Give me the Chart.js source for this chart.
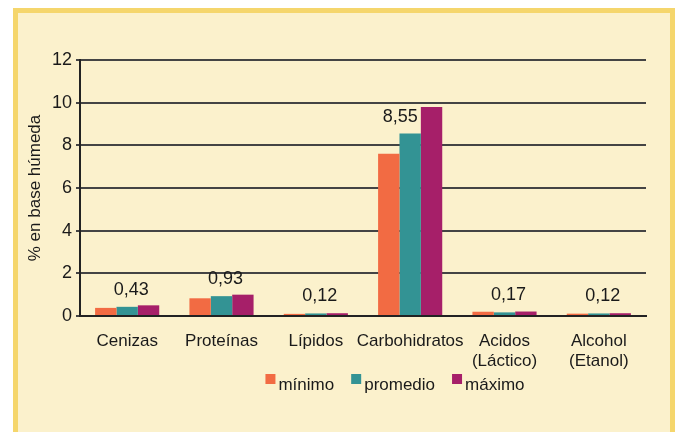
<!DOCTYPE html>
<html>
<head>
<meta charset="utf-8">
<script src="https://cdn.jsdelivr.net/npm/chart.js"></script>
<style>
  html, body { margin: 0; padding: 0; background: #ffffff; }
  body { width: 678px; height: 432px; position: relative; overflow: hidden; }
  #frame {
    position: absolute; left: 13px; top: 8px; width: 652px; height: 440px;
    background: #fbf1cc; border: 5px solid #f5d66c; border-bottom: none;
  }
  #wrap { position: absolute; left: 0; top: 0; width: 678px; height: 432px; }
</style>
</head>
<body>
<div id="frame"></div>
<div id="wrap"><canvas id="chart" width="678" height="432"></canvas></div>
<script>
// Composición (% en base húmeda)
const categories = ['Cenizas', 'Proteínas', 'Lípidos', 'Carbohidratos', ['Acidos', '(Láctico)'], ['Alcohol', '(Etanol)']];
const minimo   = [0.38, 0.83, 0.10, 7.60, 0.20, 0.11];
const promedio = [0.43, 0.93, 0.12, 8.55, 0.17, 0.12];
const maximo   = [0.50, 1.00, 0.13, 9.80, 0.21, 0.13];
const yTicks = [0, 2, 4, 6, 8, 10, 12];

const FONT = 'Liberation Sans, Arial, sans-serif';
const TEXT = '#1a1a1a';

// value labels (promedio) above each group
const valueLabels = {
    id: 'valueLabels',
    afterDatasetsDraw(chart) {
        const ctx = chart.ctx;
        const mid = chart.getDatasetMeta(1).data;
        const top = chart.getDatasetMeta(2).data;
        ctx.save();
        ctx.font = '18px ' + FONT;
        ctx.fillStyle = TEXT;
        ctx.textBaseline = 'middle';
        mid.forEach((bar, i) => {
            const txt = promedio[i].toFixed(2).replace('.', ',');
            const w = ctx.measureText(txt).width;
            const y = bar.y - 17;
            let x = bar.x + 4;
            const maxBar = top[i];
            // keep the label clear of a taller maximo bar
            if (maxBar.y < y + 9 && x + w / 2 > maxBar.x - maxBar.width / 2) {
                x = bar.x + bar.width / 2 - 3 - w / 2;
            }
            ctx.textAlign = 'center';
            ctx.fillText(txt, x, y);
        });
        ctx.restore();
    }
};

// legend drawn under the axis labels
const bottomLegend = {
    id: 'bottomLegend',
    afterDraw(chart) {
        const ctx = chart.ctx;
        const area = chart.chartArea;
        const sets = chart.data.datasets;
        ctx.save();
        ctx.font = '17px ' + FONT;
        const box = 10, gap = 3, space = 17;
        let total = 0;
        sets.forEach((ds, i) => {
            total += box + gap + ctx.measureText(ds.label).width;
            if (i < sets.length - 1) total += space;
        });
        let x = (area.left + area.right) / 2 + 32 - total / 2;
        const y = 385;
        sets.forEach(ds => {
            ctx.fillStyle = ds.backgroundColor;
            ctx.fillRect(x, y - 11, box, box);
            x += box + gap;
            ctx.fillStyle = TEXT;
            ctx.textAlign = 'left';
            ctx.textBaseline = 'middle';
            ctx.fillText(ds.label, x, y);
            x += ctx.measureText(ds.label).width + space;
        });
        ctx.restore();
    }
};

new Chart(document.getElementById('chart'), {
    type: 'bar',
    data: {
        labels: categories,
        datasets: [
            { label: 'mínimo',   data: minimo,   backgroundColor: '#f26b43' },
            { label: 'promedio', data: promedio, backgroundColor: '#339394' },
            { label: 'máximo',   data: maximo,   backgroundColor: '#a61f69' }
        ]
    },
    options: {
        responsive: false,
        animation: false,
        layout: { padding: { left: 20, right: 32, top: 60, bottom: 0 } },
        datasets: { bar: { categoryPercentage: 0.68, barPercentage: 1.0 } },
        plugins: {
            legend: { display: false },
            tooltip: { enabled: false }
        },
        scales: {
            x: {
                grid: { display: false },
                border: { display: true, color: '#222222', width: 2 },
                ticks: {
                    color: TEXT,
                    font: { family: FONT, size: 17 },
                    padding: 7,
                    maxRotation: 0,
                    autoSkip: false
                },
                afterFit(scale) { scale.height = 116; }
            },
            y: {
                min: 0,
                max: 12,
                afterBuildTicks(scale) { scale.ticks = yTicks.map(v => ({ value: v })); },
                grid: { color: '#444444', lineWidth: 2, tickLength: 4 },
                border: { display: true, color: '#222222', width: 2 },
                ticks: {
                    color: TEXT,
                    font: { family: FONT, size: 18 },
                    padding: 4
                },
                title: {
                    display: true,
                    text: '% en base húmeda',
                    color: TEXT,
                    font: { family: FONT, size: 17 },
                    padding: { top: 5, bottom: 0 }
                },
                afterFit(scale) { scale.width = 60; }
            }
        }
    },
    plugins: [valueLabels, bottomLegend]
});
</script>
</body>
</html>
